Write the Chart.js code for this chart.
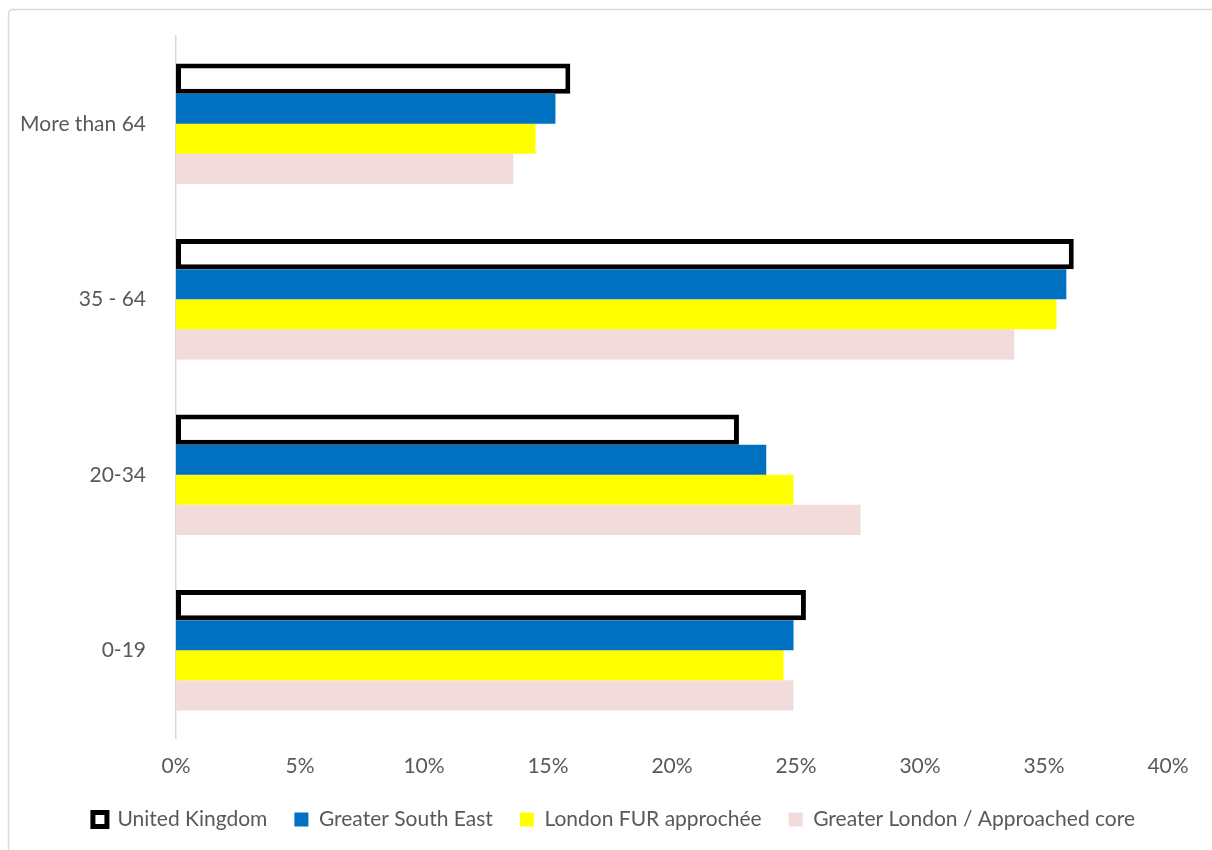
<!DOCTYPE html>
<html>
<head>
<meta charset="utf-8">
<script src="https://cdn.jsdelivr.net/npm/chart.js@4/dist/chart.umd.min.js"></script>
<style>
  html, body { margin: 0; padding: 0; background: #fff; }
  #wrap { width: 1212px; height: 850px; position: relative; }
</style>
</head>
<body>
<div id="wrap"><canvas id="chart" width="1212" height="850"></canvas></div>
<script>
// Age bands, top to bottom
const ageBands = ["More than 64", "35 - 64", "20-34", "0-19"];

// Share of population (%) per area
const ukValues = [15.9, 36.2, 22.7, 25.4];
const gseValues = [15.3, 35.9, 23.8, 24.9];
const furValues = [14.5, 35.5, 24.9, 24.5];
const londonValues = [13.6, 33.8, 27.6, 24.9];

const seriesNames = ["United Kingdom", "Greater South East", "London FUR approchée", "Greater London / Approached core"];
const xTicks = [0, 5, 10, 15, 20, 25, 30, 35, 40];

const TEXT = "#595959";
const FONT = "Lato, 'Open Sans', sans-serif";

// light frame round the chart, like the office export
const framePlugin = {
  id: "frame",
  beforeDraw(chart) {
    const ctx = chart.ctx;
    ctx.save();
    ctx.strokeStyle = "#d9d9d9";
    ctx.lineWidth = 1.5;
    ctx.beginPath();
    ctx.roundRect(8.5, 9.5, 1260, 900, 4);
    ctx.stroke();
    ctx.restore();
  },
};

const ds = (label, data, bg, border, bw) => ({
  label,
  data,
  backgroundColor: bg,
  borderColor: border,
  borderWidth: bw,
  borderSkipped: false,
  categoryPercentage: 0.686,
  barPercentage: 1.0,
});

new Chart(document.getElementById("chart").getContext("2d"), {
  type: "bar",
  data: {
    labels: ageBands,
    datasets: [
      ds(seriesNames[0], ukValues, "#ffffff", "#000000", 5),
      ds(seriesNames[1], gseValues, "#0070C0", "#0070C0", 0),
      ds(seriesNames[2], furValues, "#FFFF00", "#FFFF00", 0),
      ds(seriesNames[3], londonValues, "#F2DCDB", "#F2DCDB", 0),
    ],
  },
  options: {
    indexAxis: "y",
    responsive: false,
    animation: false,
    layout: { padding: { top: 36, right: 0, bottom: 10, left: 16 } },
    plugins: {
      tooltip: { enabled: false },
      legend: {
        position: "bottom",
        labels: {
          color: TEXT,
          font: { family: FONT, size: 21 },
          boxWidth: 14,
          boxHeight: 14,
          padding: 27,
        },
      },
    },
    scales: {
      x: {
        min: 0,
        max: 40,
        afterBuildTicks: (s) => { s.ticks = xTicks.map((v) => ({ value: v })); },
        grid: { display: false },
        border: { display: false },
        ticks: {
          color: TEXT,
          font: { family: FONT, size: 21 },
          padding: 8,
          callback: (v) => v + "%",
        },
        // keep the plot ending at 40% well inside the frame
        afterFit: (s) => { s.height = 44; s.paddingRight = 44; },
      },
      y: {
        grid: { display: false },
        border: { display: true, color: "#d9d9d9", width: 1.5 },
        ticks: {
          color: TEXT,
          font: { family: FONT, size: 21 },
          padding: 22,
        },
        afterFit: (s) => { s.width = 160; },
      },
    },
  },
  plugins: [framePlugin],
});
</script>
</body>
</html>
